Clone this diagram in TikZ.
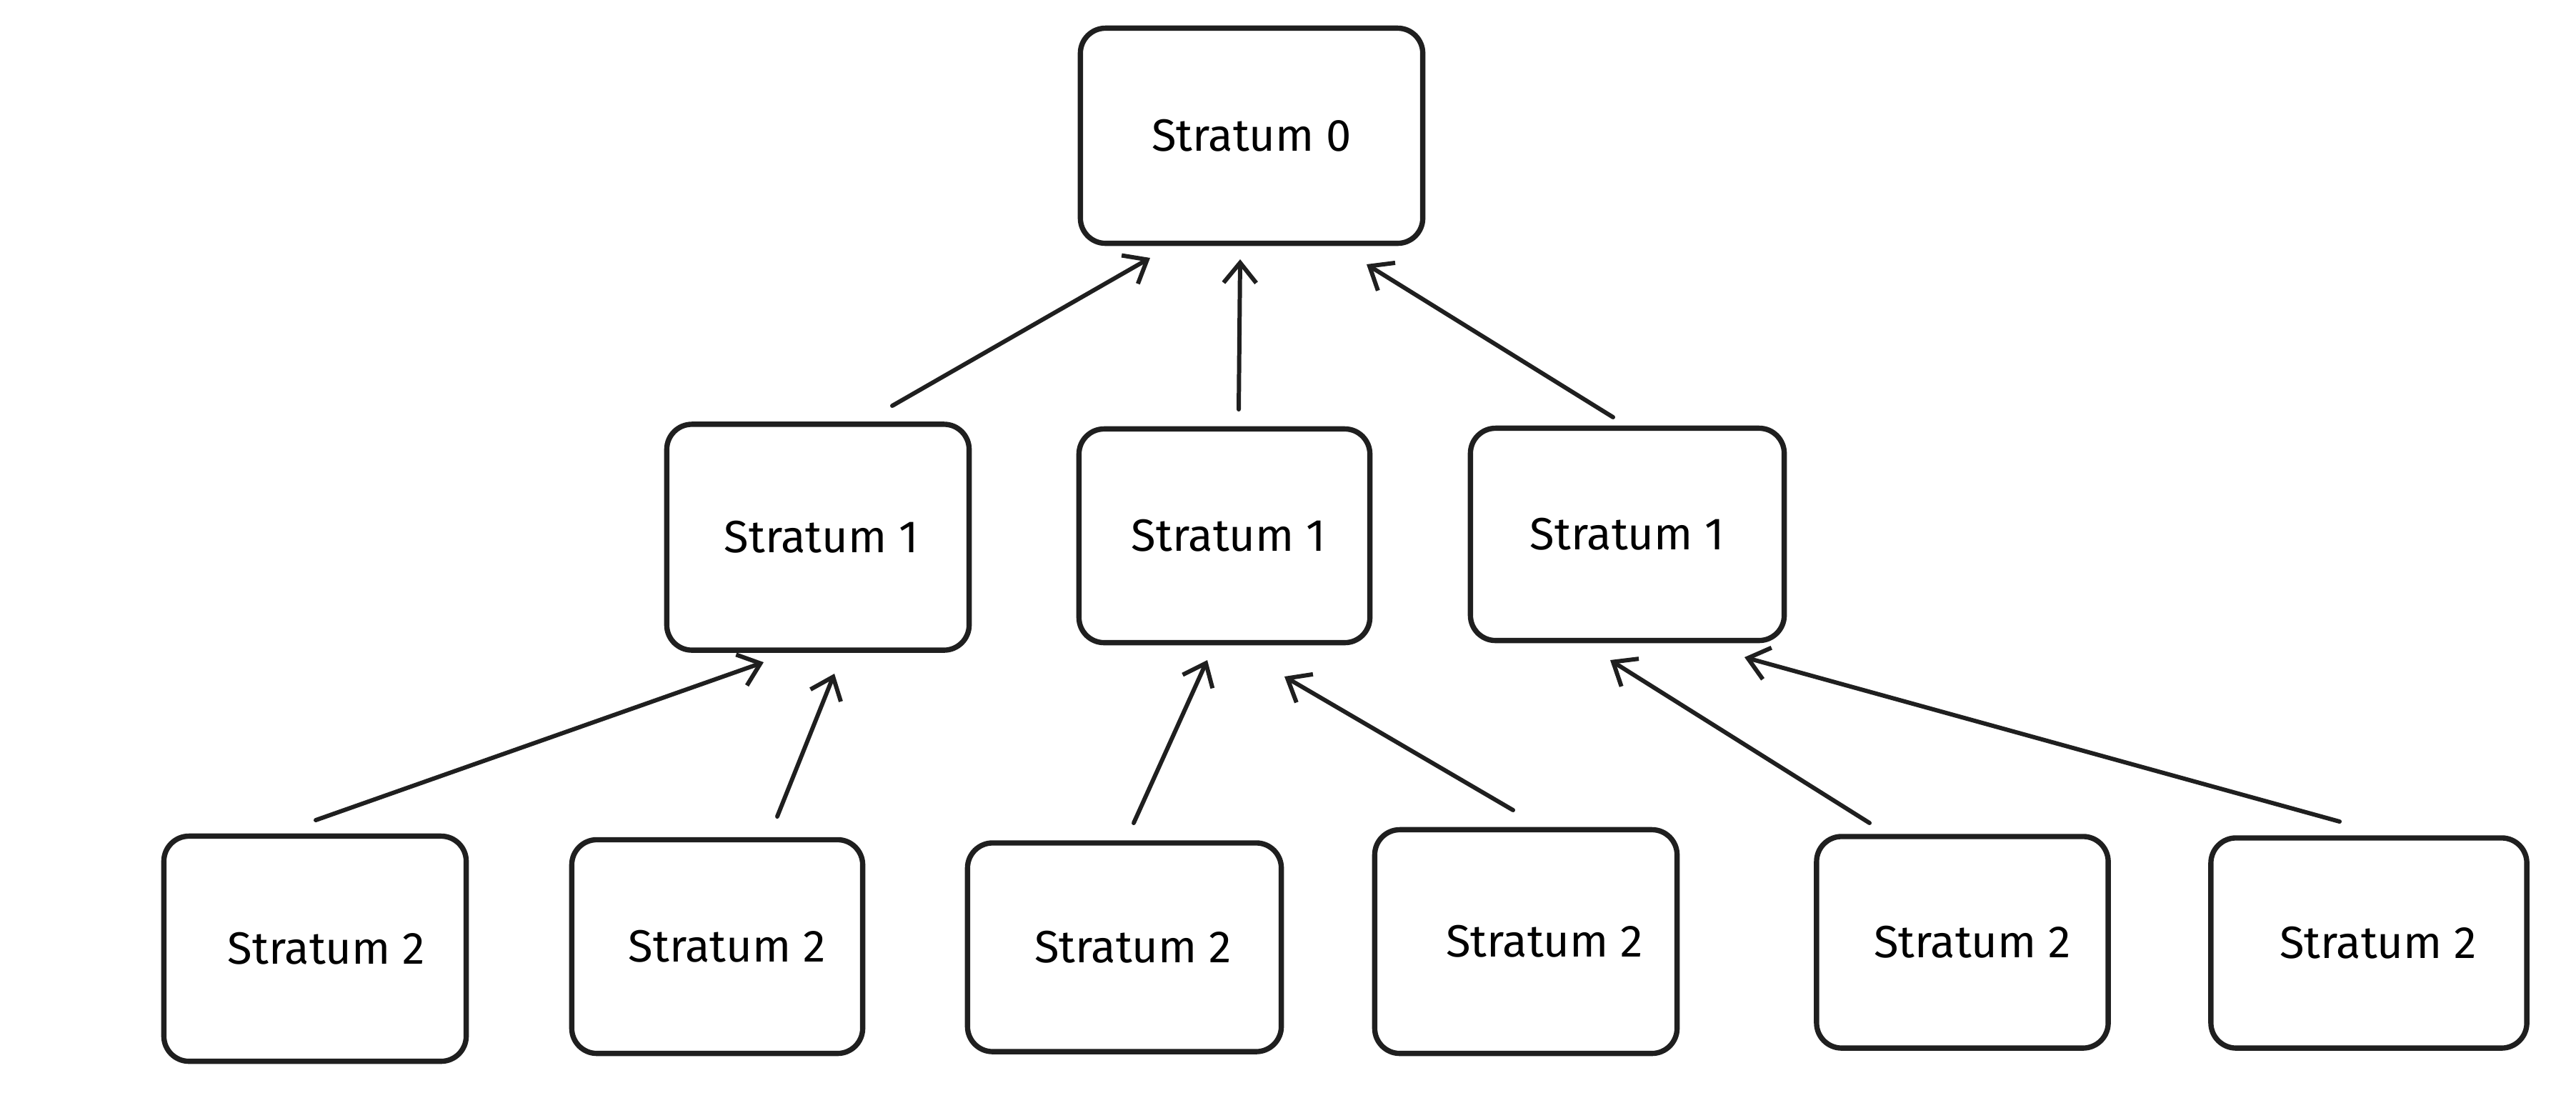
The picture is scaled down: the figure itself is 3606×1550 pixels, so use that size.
\documentclass[tikz,border=0pt]{standalone}
\usepackage{fontspec}
\setmainfont{Fira Sans}
\usetikzlibrary{arrows.meta}
\begin{document}
\begin{tikzpicture}[x=0.01cm,y=-0.01cm,
  box/.style={draw=black!88,line width=2.1pt,rounded corners=10pt,fill=white,
    inner sep=0pt,font=\fontsize{18}{21}\selectfont},
  conn/.style={draw=black!88,line width=1.7pt,line cap=round,
    -{Straight Barb[length=8pt,width=13pt,line width=1.7pt]}}]
\fill[white] (0,0) rectangle (3606,1550);
\useasboundingbox (0,0) rectangle (3606,1550);
% level 0
\node[box,minimum width=4.79cm,minimum height=3.01cm] (s0) at (1752,190) {Stratum 0};
% level 1
\node[box,minimum width=4.23cm,minimum height=3.16cm] (s1a) at (1145,752) {\hspace*{0.1cm}Stratum 1};
\node[box,minimum width=4.07cm,minimum height=2.99cm] (s1b) at (1714,750) {\hspace*{0.12cm}Stratum 1};
\node[box,minimum width=4.39cm,minimum height=2.97cm] (s1c) at (2278,748) {Stratum 1};
% level 2
\node[box,minimum width=4.23cm,minimum height=3.15cm] (s2a) at (441,1328) {\hspace*{0.32cm}Stratum 2};
\node[box,minimum width=4.07cm,minimum height=2.99cm] (s2b) at (1004,1325) {\hspace*{0.28cm}Stratum 2};
\node[box,minimum width=4.39cm,minimum height=2.92cm] (s2c) at (1574,1326) {\hspace*{0.24cm}Stratum 2};
\node[box,minimum width=4.23cm,minimum height=3.13cm] (s2d) at (2136,1318) {\hspace*{0.52cm}Stratum 2};
\node[box,minimum width=4.08cm,minimum height=2.96cm] (s2e) at (2747,1319) {\hspace*{0.28cm}Stratum 2};
\node[box,minimum width=4.42cm,minimum height=2.94cm] (s2f) at (3316,1320) {\hspace*{0.26cm}Stratum 2};
% arrow end points
\coordinate (a1s) at (1249,568); \coordinate (a1e) at (1610,361);
\coordinate (a2s) at (1734,573); \coordinate (a2e) at (1736,363);
\coordinate (a3s) at (2258,584); \coordinate (a3e) at (1913,370);
\coordinate (b1s) at (442,1148); \coordinate (b1e) at (1069,927);
\coordinate (b2s) at (1088,1143); \coordinate (b2e) at (1168,943);
\coordinate (b3s) at (1587,1152); \coordinate (b3e) at (1690,924);
\coordinate (b4s) at (2118,1134); \coordinate (b4e) at (1798,947);
\coordinate (b5s) at (2617,1152); \coordinate (b5e) at (2254,924);
\coordinate (b6s) at (3275,1150); \coordinate (b6e) at (2442,920);
\draw[conn] (a1s) -- (a1e);
\draw[conn] (a2s) -- (a2e);
\draw[conn] (a3s) -- (a3e);
\draw[conn] (b1s) -- (b1e);
\draw[conn] (b2s) -- (b2e);
\draw[conn] (b3s) -- (b3e);
\draw[conn] (b4s) -- (b4e);
\draw[conn] (b5s) -- (b5e);
\draw[conn] (b6s) -- (b6e);
\end{tikzpicture}
\end{document}
